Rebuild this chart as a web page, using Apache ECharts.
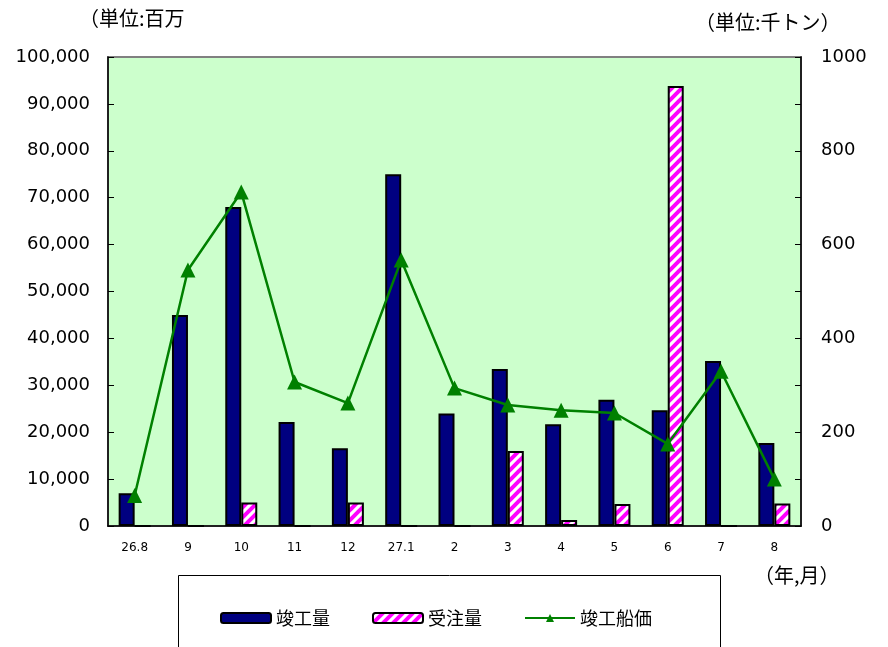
<!DOCTYPE html>
<html><head><meta charset="utf-8">
<script src="https://cdn.jsdelivr.net/npm/echarts@6/dist/echarts.min.js"></script>
<style>html,body{margin:0;padding:0;background:#fff}#c{width:888px;height:647px}</style>
</head><body><div id="c"></div>
<script>
const categories = ['26.8','9','10','11','12','27.1','2','3','4','5','6','7','8'];
const completed = [7000,45000,68000,22200,16600,75000,24000,33500,21700,26900,24700,35200,17700];
const orders = [0,0,5000,0,5000,0,0,16000,1300,4700,93800,0,4800];
const shipPrice = [65,546,712,307,262,567,294,258,247,241,175,330,100];
const leftTicks = [0,100000,10000];
const rightTicks = [0,1000,100];

const cv = document.createElement('canvas');
cv.width = 10; cv.height = 10;
const g = cv.getContext('2d');
g.fillStyle = '#ffffff'; g.fillRect(0,0,10,10);
g.strokeStyle = '#ff00ff'; g.lineWidth = 4;
g.beginPath();
g.moveTo(-3,13); g.lineTo(13,-3);
g.moveTo(-8,8); g.lineTo(8,-8);
g.moveTo(2,18); g.lineTo(18,2);
g.stroke();

const NUM = 'DejaVu Sans, Arial, sans-serif';
const JP = 'Noto Sans CJK JP, sans-serif';

const chart = echarts.init(document.getElementById('c'));
chart.setOption({
  animation: false,
  backgroundColor: '#ffffff',
  grid: { left: 108, top: 57, right: 87, bottom: 121, show: true, backgroundColor: '#CCFFCC', borderColor: '#808080', borderWidth: 2 },
  legend: {
    left: 215, top: 604, itemWidth: 50, itemHeight: 10, itemGap: 42,
    textStyle: { fontFamily: JP, fontSize: 18, color: '#000' },
    data: ['竣工量','受注量','竣工船価']
  },
  graphic: [
    { type: 'rect', shape: { x: 178.5, y: 575.5, width: 542, height: 120 }, style: { fill: 'none', stroke: '#000', lineWidth: 1 }, z: 0 },
    { type: 'text', left: 79, top: 8, style: { text: '（単位:百万', font: '20px "Noto Sans CJK JP"', fill: '#000' } },
    { type: 'text', left: 695, top: 12, style: { text: '（単位:千トン）', font: '20px "Noto Sans CJK JP"', fill: '#000' } },
    { type: 'text', left: 754, top: 565, style: { text: '（年,月）', font: '20px "Noto Sans CJK JP"', fill: '#000' } }
  ],
  xAxis: {
    type: 'category', data: categories, boundaryGap: true,
    axisLine: { lineStyle: { color: '#000', width: 1.5 } },
    axisTick: { inside: true, length: 5, lineStyle: { color: '#000' } },
    axisLabel: { fontFamily: NUM, fontSize: 12, color: '#000', margin: 16 }
  },
  yAxis: [
    {
      type: 'value', min: leftTicks[0], max: leftTicks[1], interval: leftTicks[2],
      axisLine: { show: true, lineStyle: { color: '#000', width: 1.5 } },
      axisTick: { show: true, inside: true, length: 6, lineStyle: { color: '#000' } },
      splitLine: { show: false },
      axisLabel: { fontFamily: NUM, fontSize: 18, color: '#000', margin: 18,
        formatter: v => v.toLocaleString('en-US') }
    },
    {
      type: 'value', min: rightTicks[0], max: rightTicks[1], interval: rightTicks[2], position: 'right',
      axisLine: { show: true, lineStyle: { color: '#000', width: 1.5 } },
      axisTick: { show: true, inside: true, length: 6, lineStyle: { color: '#000' } },
      splitLine: { show: false },
      axisLabel: { fontFamily: NUM, fontSize: 18, color: '#000', margin: 20,
        formatter: v => (v % 200 === 0 ? String(v) : '') }
    }
  ],
  series: [
    { name: '竣工量', type: 'bar', data: completed, barWidth: 16, barGap: '0%',
      itemStyle: { color: '#000080', borderColor: '#000', borderWidth: 2 } },
    { name: '受注量', type: 'bar', data: orders, barWidth: 16, barGap: '0%',
      itemStyle: { color: { image: cv, repeat: 'repeat' }, borderColor: '#000', borderWidth: 2 } },
    { name: '竣工船価', type: 'line', yAxisIndex: 1, data: shipPrice,
      symbol: 'triangle', symbolSize: 15,
      lineStyle: { color: '#008000', width: 2.5 },
      itemStyle: { color: '#008000' } }
  ]
});
</script></body></html>
